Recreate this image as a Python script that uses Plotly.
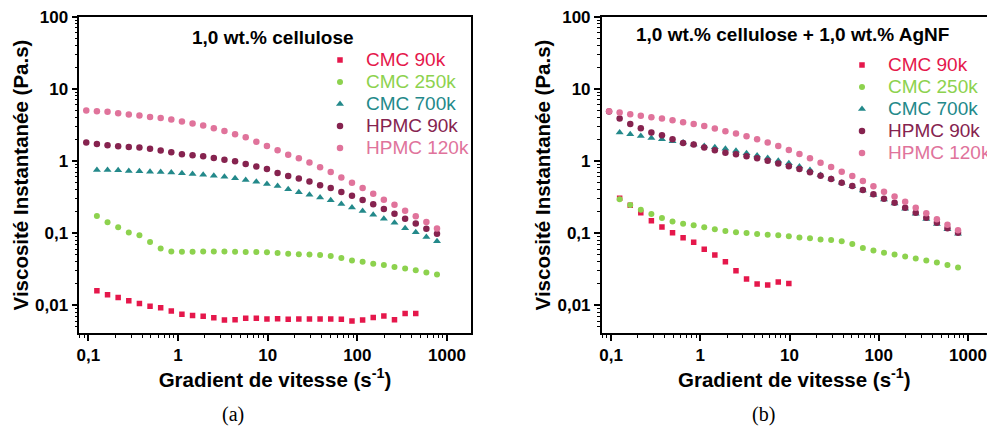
import plotly.graph_objects as go

# ---------------- data ----------------
shear_rate = [0.0950, 0.1248, 0.1640, 0.2154, 0.2830, 0.3718, 0.4884, 0.6416, 0.8429,
              1.107, 1.455, 1.911, 2.511, 3.298, 4.333, 5.692, 7.478, 9.823, 12.91,
              16.95, 22.27, 29.26, 38.44, 50.50, 66.34, 87.15, 114.5, 150.4, 197.6,
              259.6, 341.0, 448.0, 588.5, 773.1]

# (a) 1,0 wt.% cellulose
cmc90_a = [None, 0.0158, 0.0139, 0.0128, 0.0115, 0.01055, 0.0097, 0.0092, 0.0083, 0.0075,
           0.0072, 0.0070, 0.00667, 0.00625, 0.0063, 0.0066, 0.0066, 0.00645, 0.0065, 0.0064,
           0.00645, 0.00645, 0.00645, 0.00645, 0.0064, 0.00605, 0.00625, 0.00675, 0.0071,
           0.0063, 0.00767, 0.00767, None, None]
cmc250_a = [None, 0.172, 0.141, 0.12, 0.102, 0.093, 0.075, 0.061, 0.0556, 0.055, 0.055,
            0.0556, 0.0556, 0.0556, 0.055, 0.0545, 0.0545, 0.054, 0.0527, 0.0516, 0.051,
            0.0506, 0.0495, 0.048, 0.045, 0.0418, 0.040, 0.0375, 0.036, 0.0337, 0.0323,
            0.0306, 0.0284, 0.0267]
cmc700_a = [None, 0.75, 0.75, 0.743, 0.726, 0.72, 0.71, 0.70, 0.69, 0.675, 0.66, 0.645,
            0.625, 0.605, 0.574, 0.545, 0.516, 0.48, 0.45, 0.405, 0.367, 0.34, 0.31, 0.284,
            0.253, 0.227, 0.202, 0.18, 0.158, 0.139, 0.117, 0.103, 0.088, 0.077]
hpmc90_a = [1.80, 1.72, 1.65, 1.60, 1.56, 1.53, 1.47, 1.39, 1.32, 1.24, 1.20, 1.16, 1.10,
            1.04, 0.99, 0.91, 0.84, 0.77, 0.68, 0.62, 0.57, 0.52, 0.46, 0.42, 0.37, 0.33,
            0.287, 0.25, 0.215, 0.185, 0.158, 0.136, 0.115, 0.098]
hpmc120_a = [5.0, 4.90, 4.80, 4.60, 4.40, 4.26, 4.08, 3.95, 3.75, 3.52, 3.30, 3.09, 2.84,
             2.61, 2.35, 2.13, 1.85, 1.61, 1.41, 1.22, 1.09, 0.95, 0.82, 0.70, 0.59, 0.50,
             0.42, 0.35, 0.29, 0.247, 0.204, 0.171, 0.142, 0.116]

# (b) 1,0 wt.% cellulose + 1,0 wt.% AgNF
cmc90_b = [None, 0.303, 0.243, 0.191, 0.148, 0.121, 0.101, 0.086, 0.0743, 0.0594, 0.0495,
           0.040, 0.030, 0.023, 0.0196, 0.019, 0.0209, 0.020,
           None, None, None, None, None, None, None, None, None, None, None, None, None,
           None, None, None]
cmc250_b = [None, 0.294, 0.245, 0.211, 0.184, 0.162, 0.145, 0.1346, 0.128, 0.12, 0.1125,
            0.1066, 0.103, 0.100, 0.097, 0.0948, 0.093, 0.090, 0.087, 0.0844, 0.0817, 0.080,
            0.0767, 0.0704, 0.0619, 0.0575, 0.0533, 0.0506, 0.0474, 0.0445, 0.0418, 0.039,
            0.036, 0.0334]
cmc700_b = [None, 2.47, 2.35, 2.22, 2.08, 2.00, 1.88, 1.80, 1.69, 1.61, 1.55, 1.47, 1.38,
            1.28, 1.19, 1.10, 1.01, 0.93, 0.834, 0.75, 0.64, 0.565, 0.50, 0.445, 0.39, 0.338,
            0.293, 0.257, 0.218, 0.185, 0.157, 0.134, 0.113, 0.098]
hpmc90_b = [4.85, 3.87, 3.24, 2.84, 2.47, 2.27, 2.00, 1.78, 1.69, 1.53, 1.41, 1.30, 1.24,
            1.16, 1.09, 1.01, 0.918, 0.844, 0.774, 0.697, 0.625, 0.562, 0.50, 0.45, 0.396,
            0.344, 0.30, 0.264, 0.225, 0.191, 0.163, 0.139, 0.117, 0.101]
hpmc120_b = [4.90, 4.69, 4.45, 4.22, 4.05, 3.87, 3.67, 3.45, 3.24, 3.04, 2.81, 2.59, 2.40,
             2.20, 2.00, 1.80, 1.61, 1.42, 1.25, 1.09, 0.946, 0.826, 0.71, 0.62, 0.527,
             0.445, 0.375, 0.32, 0.272, 0.225, 0.188, 0.155, 0.13, 0.109]

series_names = ["CMC 90k", "CMC 250k", "CMC 700k", "HPMC 90k", "HPMC 120k"]
panel_titles = ["1,0 wt.% cellulose", "1,0 wt.% cellulose + 1,0 wt.% AgNF"]
captions = ["(a)", "(b)"]
x_title = "Gradient de vitesse (s<sup>-1</sup>)"
y_title = "Viscosité Instantanée (Pa.s)"

# ---------------- style ----------------
FONT = "Liberation Sans, Arial, sans-serif"
SERIF = "Liberation Serif, Times New Roman, serif"
colors = ["#E5174B", "#8DD24E", "#23898A", "#86234F", "#E0739B"]
symbols = ["square", "circle", "triangle-up", "circle", "circle"]
sizes = [5.5, 6, 7, 6.5, 6.5]

W, H = 987, 427
def fx(p):
    return p / W
def fy(p):
    return 1 - p / H

xdomA = [fx(79.3), fx(470.7)]
xdomB = [fx(601.7), 1.0]
ydom = [fy(333.3), fy(16.7)]
xrangeA = [-1.10, 3.264]
xrangeB = [-1.105, 3.213]
yrange = [-2.39, 2.0]

fig = go.Figure()
panels = [
    ([cmc90_a, cmc250_a, cmc700_a, hpmc90_a, hpmc120_a], "x", "y", "legend"),
    ([cmc90_b, cmc250_b, cmc700_b, hpmc90_b, hpmc120_b], "x2", "y2", "legend2"),
]
for data, xa, ya, lg in panels:
    for name, vals, c, s, sz in zip(series_names, data, colors, symbols, sizes):
        fig.add_trace(go.Scatter(
            x=shear_rate, y=vals, mode="markers", xaxis=xa, yaxis=ya, legend=lg,
            name=f'<span style="color:{c};font-size:19px">{name}</span>',
            marker=dict(color=c, symbol=s, size=sz, line=dict(width=0)),
            hoverinfo="x+y",
        ))

tickfont = dict(family=FONT, size=17, color="black", weight="bold")
titlefont = dict(family=FONT, size=20.5, color="black", weight="bold")
base = dict(type="log", showgrid=False, zeroline=False, dtick=1, exponentformat="none",
            tickcolor="black", tickwidth=1.5, ticklen=6, tickfont=tickfont,
            ticklabeloverflow="allow", automargin=False)

def main_x(dom, rng, anchor):
    return dict(base, domain=dom, range=rng, anchor=anchor, ticks="outside",
                showline=True, linecolor="black", linewidth=1.5, mirror=True,
                minor=dict(ticks="outside", ticklen=3, tickwidth=1, tickcolor="black", showgrid=False),
                title=dict(text=x_title, font=titlefont, standoff=6))

def main_y(rng, anchor, mirror):
    return dict(base, domain=ydom, range=rng, anchor=anchor, ticks="outside",
                showline=True, linecolor="black", linewidth=1.5, mirror=mirror,
                minor=dict(ticks="outside", ticklen=3, tickwidth=1, tickcolor="black", showgrid=False),
                title=dict(text=y_title, font=titlefont, standoff=1))

def inner(rng, overlay, side, anchor):
    return dict(base, range=rng, overlaying=overlay, side=side, anchor=anchor, ticks="inside",
                showticklabels=False, showline=False,
                minor=dict(ticks="inside", ticklen=3, tickwidth=1, tickcolor="black", showgrid=False))

legend_common = dict(xanchor="left", yanchor="top", bgcolor="rgba(0,0,0,0)",
                     font=dict(family=FONT, size=14.6), itemwidth=42, tracegroupgap=0)

fig.update_layout(
    width=W, height=H,
    margin=dict(l=0, r=0, t=0, b=0, autoexpand=False),
    paper_bgcolor="white", plot_bgcolor="white",
    separators=", ",
    font=dict(family=FONT, color="black"),
    showlegend=True,
    xaxis=main_x(xdomA, xrangeA, "y"),
    yaxis=main_y(yrange, "x", True),
    xaxis2=main_x(xdomB, xrangeB, "y2"),
    yaxis2=main_y(yrange, "x2", False),
    xaxis3=inner(xrangeA, "x", "top", "y"),
    yaxis3=inner(yrange, "y", "right", "x"),
    xaxis4=inner(xrangeB, "x2", "top", "y2"),
    legend=dict(legend_common, x=fx(314), y=fy(44)),
    legend2=dict(legend_common, x=fx(836), y=fy(49)),
)

title_pos = [(273, 38), (792, 35)]
for t, (px_, py_) in zip(panel_titles, title_pos):
    fig.add_annotation(text=t, x=fx(px_), y=fy(py_), xref="paper", yref="paper",
                       showarrow=False, xanchor="center", yanchor="middle",
                       font=dict(family=FONT, size=19, color="black", weight="bold"))
cap_pos = [(233, 414), (763, 414)]
for t, (px_, py_) in zip(captions, cap_pos):
    fig.add_annotation(text=t, x=fx(px_), y=fy(py_), xref="paper", yref="paper",
                       showarrow=False, xanchor="center", yanchor="middle",
                       font=dict(family=SERIF, size=20, color="black"))

fig.write_html("out.html", config={"displayModeBar": False},
               post_script="document.body.style.margin='0px';")
